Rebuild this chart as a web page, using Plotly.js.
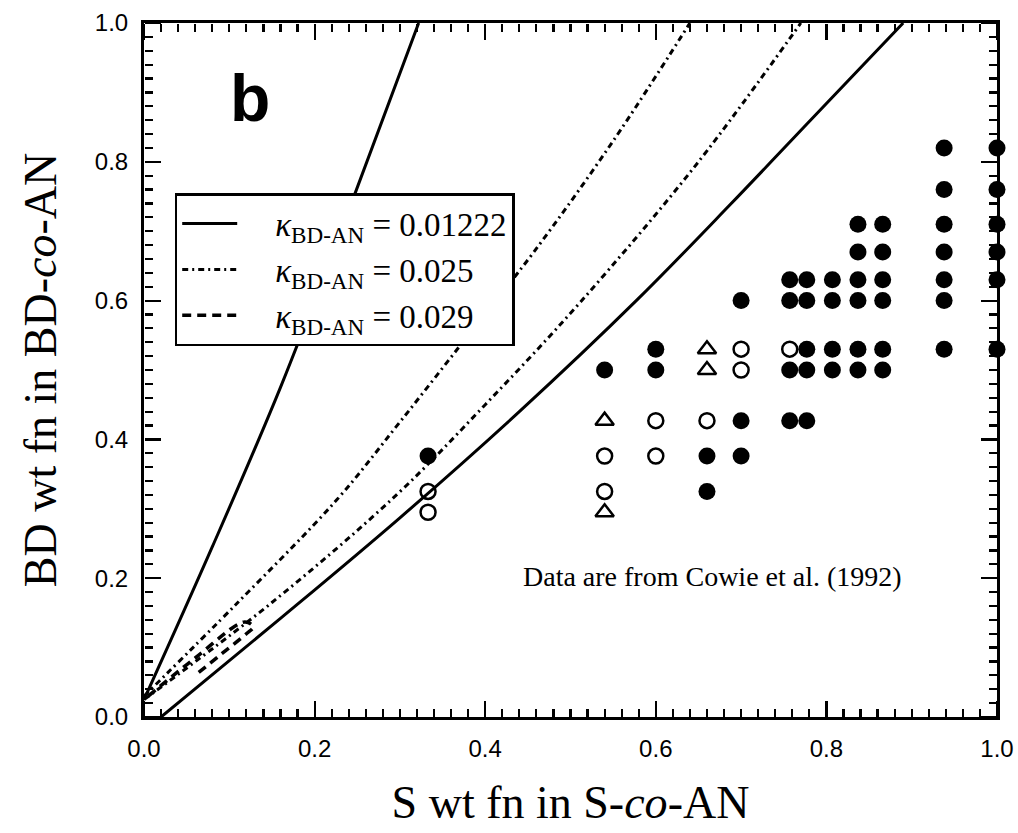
<!DOCTYPE html>
<html><head><meta charset="utf-8">
<script src="https://cdn.plot.ly/plotly-3.0.1.min.js"></script>
<style>body{margin:0;background:#fff}#chart{width:1018px;height:833px}</style>
</head><body><div id="chart"></div>
<script>
// Experimental data (Cowie et al. 1992)
const filledX = [0.333, 0.54, 0.60,0.60, 0.66,0.66, 0.70,0.70,0.70,
  0.757,0.757,0.757,0.757, 0.777,0.777,0.777,0.777,0.777,
  0.807,0.807,0.807,0.807, 0.837,0.837,0.837,0.837,0.837,0.837,
  0.866,0.866,0.866,0.866,0.866,0.866,
  0.938,0.938,0.938,0.938,0.938,0.938,0.938,
  1.0,1.0,1.0,1.0,1.0,1.0];
const filledY = [0.376, 0.50, 0.53,0.50, 0.376,0.325, 0.60,0.427,0.376,
  0.63,0.60,0.50,0.427, 0.63,0.60,0.53,0.50,0.427,
  0.63,0.60,0.53,0.50, 0.71,0.67,0.63,0.60,0.53,0.50,
  0.71,0.67,0.63,0.60,0.53,0.50,
  0.82,0.76,0.71,0.67,0.63,0.60,0.53,
  0.82,0.76,0.71,0.67,0.63,0.53];
const openX = [0.333,0.333, 0.54,0.54, 0.60,0.60, 0.66, 0.70,0.70, 0.757];
const openY = [0.325,0.295, 0.376,0.325, 0.427,0.376, 0.427, 0.53,0.50, 0.53];
const triX = [0.54,0.54, 0.66,0.66];
const triY = [0.427,0.295, 0.53,0.50];

// Theoretical boundaries
const k1UpperX = [0.0, 0.08, 0.16, 0.24, 0.322];
const k1UpperY = [0.025, 0.245, 0.475, 0.73, 1.0];
const k1LowerX = [0.02, 0.16, 0.30, 0.44, 0.578, 0.687, 0.783, 0.89];
const k1LowerY = [0.0, 0.142, 0.287, 0.44, 0.601, 0.738, 0.862, 1.0];
const k2UpperX = [0.0, 0.11, 0.226, 0.30, 0.382, 0.457, 0.55, 0.64];
const k2UpperY = [0.03, 0.165, 0.313, 0.425, 0.553, 0.67, 0.83, 1.0];
const k2LowerX = [0.0, 0.15, 0.296, 0.40, 0.511, 0.65, 0.77];
const k2LowerY = [0.025, 0.165, 0.32, 0.45, 0.597, 0.80, 1.0];
const k3X = [0.005, 0.06, 0.118, 0.128, 0.12, 0.09, 0.06];
const k3Y = [0.03, 0.085, 0.137, 0.13, 0.12, 0.09, 0.06];

const pad = '&nbsp;&nbsp;&nbsp;&nbsp;';
const legendNames = [pad + '<i>κ</i><sub>BD-AN</sub> = 0.01222', pad + '<i>κ</i><sub>BD-AN</sub> = 0.025', pad + '<i>κ</i><sub>BD-AN</sub> = 0.029'];
const majorStep = 0.2;
const minorStep = 0.02;

const dd = '6px,4px,2px,4px';
const traces = [
  {x:k1UpperX, y:k1UpperY, mode:'lines', line:{color:'#000', width:3, shape:'spline'}, name:legendNames[0], legendgroup:'a'},
  {x:k1LowerX, y:k1LowerY, mode:'lines', line:{color:'#000', width:3, shape:'spline'}, name:legendNames[0], legendgroup:'a', showlegend:false},
  {x:k2UpperX, y:k2UpperY, mode:'lines', line:{color:'#000', width:3, dash:dd, shape:'spline'}, name:legendNames[1], legendgroup:'b'},
  {x:k2LowerX, y:k2LowerY, mode:'lines', line:{color:'#000', width:3, dash:dd, shape:'spline'}, name:legendNames[1], legendgroup:'b', showlegend:false},
  {x:k3X, y:k3Y, mode:'lines', line:{color:'#000', width:3.5, dash:'9px,6px', shape:'spline'}, name:legendNames[2]},
  {x:filledX, y:filledY, mode:'markers', marker:{symbol:'circle', size:17, color:'#000'}, showlegend:false, cliponaxis:false},
  {x:openX, y:openY, mode:'markers', marker:{symbol:'circle-open', size:15, color:'#000', line:{width:2.5, color:'#000'}}, showlegend:false, cliponaxis:false},
  {x:triX, y:triY, mode:'markers', marker:{symbol:'triangle-up-open', size:16, color:'#000', line:{width:2.5, color:'#000'}}, showlegend:false, cliponaxis:false}
];
// empty helper traces so the tick-only axes are drawn
['2','3','4','5'].forEach(function(k){
  traces.push({x:[], y:[], xaxis:'x'+k, yaxis:'y'+k, mode:'markers', showlegend:false, hoverinfo:'skip'});
});

const serif = 'Liberation Serif, Times New Roman, serif';
const sans = 'Liberation Sans, Arial, sans-serif';
const mainAxis = {
  range:[0,1], showgrid:false, zeroline:false, showline:true, linecolor:'#000', linewidth:3,
  mirror:true, ticks:'', tickmode:'linear', tick0:0, dtick:majorStep,
  tickformat:'.1f', tickfont:{family:sans, size:24, color:'#000'}, ticklabelstandoff:8
};
function tickAxis(over, side, pos, step, len) {
  return {range:[0,1], overlaying:over, anchor:'free', position:pos, side:side,
    showgrid:false, zeroline:false, showline:false, showticklabels:false,
    ticks:'outside', ticklen:len, tickwidth:2.2, tickcolor:'#000',
    tickmode:'linear', tick0:0, dtick:step};
}

const layout = {
  width:1018, height:833,
  margin:{l:144, r:21, t:23, b:116},
  paper_bgcolor:'#fff', plot_bgcolor:'#fff',
  showlegend:true,
  legend:{x:0.036, y:0.755, xanchor:'left', yanchor:'top', bgcolor:'#fff', bordercolor:'#000', borderwidth:2.5,
    font:{family:serif, size:33, color:'#000'}, itemwidth:55, tracegroupgap:0},
  xaxis:Object.assign({}, mainAxis, {title:{text:'S wt fn in S-<i>co</i>-AN', standoff:26,
    font:{family:serif, size:46, color:'#000'}}}),
  yaxis:Object.assign({}, mainAxis, {title:{text:'BD wt fn in BD-<i>co</i>-AN', standoff:24,
    font:{family:serif, size:46, color:'#000'}}}),
  xaxis2:tickAxis('x', 'top', 0, majorStep, 16),
  xaxis3:tickAxis('x', 'top', 0, minorStep, 8),
  xaxis4:tickAxis('x', 'bottom', 1, majorStep, 16),
  xaxis5:tickAxis('x', 'bottom', 1, minorStep, 8),
  yaxis2:tickAxis('y', 'right', 0, majorStep, 16),
  yaxis3:tickAxis('y', 'right', 0, minorStep, 8),
  yaxis4:tickAxis('y', 'left', 1, majorStep, 16),
  yaxis5:tickAxis('y', 'left', 1, minorStep, 8),
  annotations:[
    {x:0.124, y:0.892, xref:'x', yref:'y', text:'<b>b</b>', showarrow:false,
      font:{family:sans, size:66, color:'#000'}},
    {x:0.666, y:0.202, xref:'x', yref:'y', text:'Data are from Cowie et al. (1992)', showarrow:false,
      font:{family:serif, size:28, color:'#000'}}
  ]
};

Plotly.newPlot('chart', traces, layout, {displayModeBar:false, staticPlot:true});
</script>
</body></html>
